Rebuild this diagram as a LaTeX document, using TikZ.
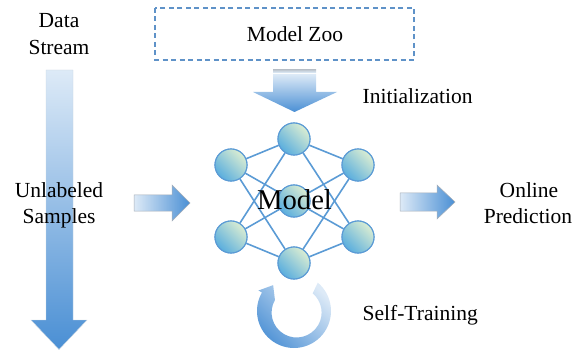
\documentclass[tikz,border=0pt]{standalone}
\usepackage{fontspec}
\setmainfont{Liberation Serif}
\usetikzlibrary{calc}
\definecolor{bluedark}{HTML}{4A8FD4}
\definecolor{bluemid}{HTML}{7EB0E0}
\definecolor{bluelight}{HTML}{DDEAF7}
\definecolor{edgeblue}{HTML}{5B9BD5}
\definecolor{circlight}{HTML}{DAEDD2}
\definecolor{circdark}{HTML}{5AAEDE}
\definecolor{boxblue}{HTML}{5F92C8}
\definecolor{arrowborder}{HTML}{A6AEB8}
\tikzset{
  lbl/.style={font=\fontsize{21.5}{27}\selectfont, inner sep=0pt, align=center},
  neuron/.style={circle, minimum size=32pt, inner sep=0pt, draw=edgeblue, line width=1.1pt,
    top color=circlight, bottom color=circdark, shading angle=-45},
  link/.style={draw=edgeblue, line width=1.6pt},
  zoobox/.style={draw=boxblue, dashed, dash pattern=on 5pt off 3.5pt, line width=1.5pt},
}
\begin{document}
\begin{tikzpicture}[x=1pt,y=-1pt]
\useasboundingbox (0,0) rectangle (584,350);

% Data stream label and big arrow
\node[lbl, anchor=base] (ds1) at (59,28) {Data};
\node[lbl, anchor=base] (ds2) at (59,55) {Stream};
\shade[top color=bluelight, bottom color=bluedark, draw=bluelight!80!gray, line width=0.4pt]
  (46,70) -- (73,70) -- (73,320) -- (87,320) -- (59,349.5) -- (31,320) -- (46,320) -- cycle;
\node[lbl, anchor=base] (us1) at (59,197) {Unlabeled};
\node[lbl, anchor=base] (us2) at (59,223) {Samples};

% input arrow
\shade[left color=bluelight, right color=bluedark, draw=arrowborder, line width=0.5pt]
  (134,195) -- (172,195) -- (172,185) -- (190,203) -- (172,221) -- (172,211) -- (134,211) -- cycle;

% Model zoo
\draw[zoobox] (155,8) rectangle (414,60);
\node[lbl, anchor=base] (zoo) at (295,42) {Model Zoo};

% Initialization arrow
\fill[top color=bluelight!70!gray, bottom color=bluelight, shading angle=0] (273,70) rectangle (316,72.5);
\shade[top color=bluelight, bottom color=bluedark]
  (273,74) -- (316,74) -- (316,92) -- (337,92) -- (294.5,112) -- (253,92) -- (273,92) -- cycle;
\node[lbl, anchor=base west] (init) at (362.5,104) {Initialization};

% network
\node[neuron] (L1) at (231,165) {};
\node[neuron] (L2) at (231,237) {};
\node[neuron] (H1) at (294,139) {};
\node[neuron] (H2) at (294,201) {};
\node[neuron] (H3) at (294,263) {};
\node[neuron] (R1) at (358,165) {};
\node[neuron] (R2) at (358,237) {};
\foreach \a in {L1,L2,R1,R2}{
  \foreach \b in {H1,H2,H3}{
    \draw[link] (\a) -- (\b);
  }
}
% redraw neurons on top of links
\node[neuron] at (L1) {};
\node[neuron] at (L2) {};
\node[neuron] at (H1) {};
\node[neuron] at (H2) {};
\node[neuron] at (H3) {};
\node[neuron] at (R1) {};
\node[neuron] at (R2) {};
\node[inner sep=0pt, font=\fontsize{28.7}{32}\selectfont, anchor=base] (model) at (294.5,210) {Model};

% output arrow
\shade[left color=bluelight, right color=bluedark, draw=arrowborder, line width=0.5pt]
  (400,193) -- (437,193) -- (437,185) -- (455,202) -- (437,219) -- (437,211) -- (400,211) -- cycle;
\node[lbl, anchor=base] (op1) at (529,197) {Online};
\node[lbl, anchor=base] (op2) at (528,223) {Prediction};

% self-training loop (y axis points down, so angles are mirrored)
\coordinate (c) at (294,311);
\shade[top color=bluelight, middle color=bluedark!85!white, bottom color=bluedark, shading angle=-45]
  ($(c)+(-50:37)$) arc[start angle=-50, end angle=210, radius=37]
  -- ($(c)+(210:41)$) -- ($(c)+(210:31)+(-60:12)$) -- ($(c)+(210:22)$)
  arc[start angle=210, end angle=-50, radius=25] -- cycle;
\node[lbl, anchor=base west] (st) at (362.5,320) {Self-Training};
\end{tikzpicture}
\end{document}
